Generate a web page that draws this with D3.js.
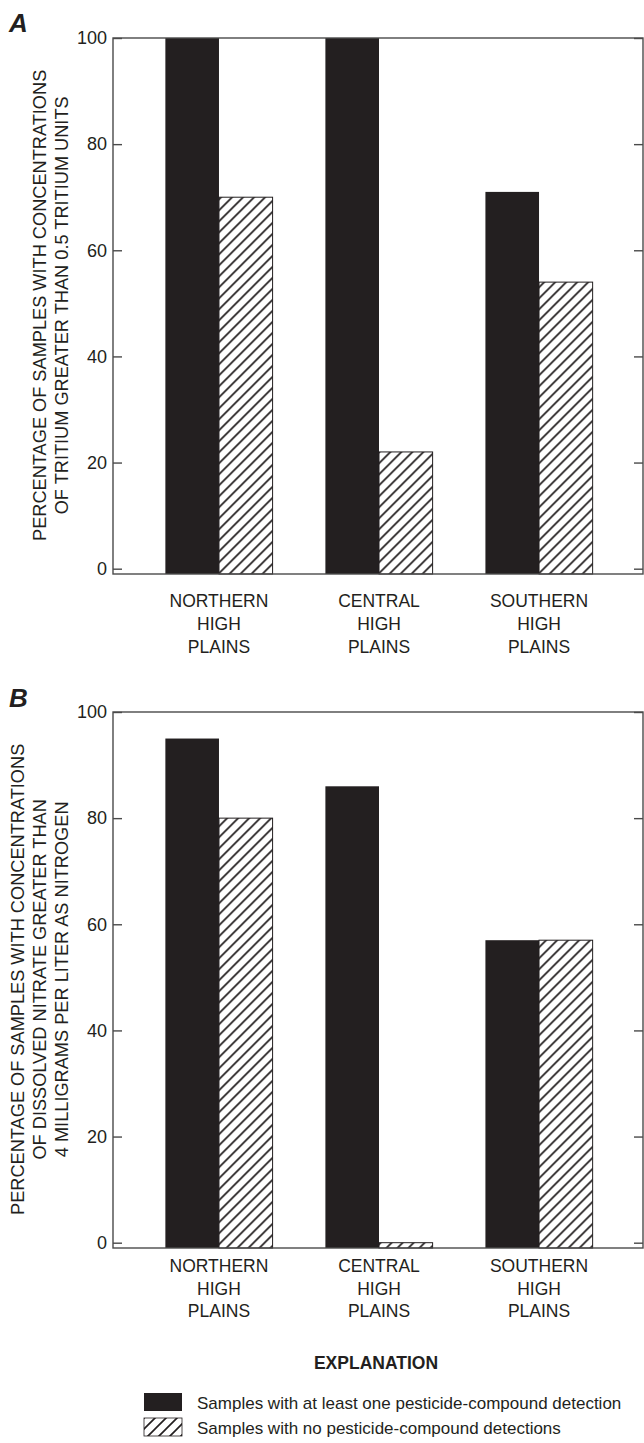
<!DOCTYPE html>
<html><head><meta charset="utf-8">
<script src="https://cdn.jsdelivr.net/npm/d3@7"></script>
<style>
html,body{margin:0;padding:0;background:#fff;}
svg{display:block;}
text{font-family:"Liberation Sans",Arial,Helvetica,sans-serif;fill:#231f20;}
.narrow{font-family:"Liberation Sans Narrow","Arial Narrow","Liberation Sans",sans-serif;font-stretch:condensed;}
</style></head>
<body>
<svg id="chart" width="644" height="1443"></svg>
<script>
const regions = ["NORTHERN HIGH PLAINS", "CENTRAL HIGH PLAINS", "SOUTHERN HIGH PLAINS"];
const regionLines = [["NORTHERN","HIGH","PLAINS"],["CENTRAL","HIGH","PLAINS"],["SOUTHERN","HIGH","PLAINS"]];
const seriesKeys = ["withDetection", "noDetection"];
const seriesLabels = ["Samples with at least one pesticide-compound detection", "Samples with no pesticide-compound detections"];
const tritiumWith = [100, 100, 71];
const tritiumNone = [70, 22, 54];
const nitrateWith = [95, 86, 57];
const nitrateNone = [80, 0, 57];
const yTicks = [0, 20, 40, 60, 80, 100];
const titleA = ["PERCENTAGE OF SAMPLES WITH CONCENTRATIONS", "OF TRITIUM GREATER THAN 0.5 TRITIUM UNITS"];
const titleB = ["PERCENTAGE OF SAMPLES WITH CONCENTRATIONS", "OF DISSOLVED NITRATE GREATER THAN", "4 MILLIGRAMS PER LITER AS NITROGEN"];

const INK = "#231f20";
const svg = d3.select("#chart");

const defs = svg.append("defs");
const pat = defs.append("pattern").attr("id","hatch").attr("patternUnits","userSpaceOnUse")
  .attr("width",11).attr("height",11);
pat.append("rect").attr("width",11).attr("height",11).attr("fill","#fff");
pat.append("path").attr("d","M-3,3 L3,-3 M0,11 L11,0 M8,14 L14,8")
  .attr("stroke",INK).attr("stroke-width",1.7);

function panel(cfg){
  const {left,right,top,bottom,withVals,noneVals,title,titleX,letter,letterY,labelY0,labelDy} = cfg;
  const g = svg.append("g");
  const y = d3.scaleLinear().domain([-1,100]).range([bottom, top]);
  const x0 = d3.scaleBand().domain(regions).range([left+1, right+1]).paddingInner(0.33).paddingOuter(0.321);
  const x1 = d3.scaleBand().domain(seriesKeys).range([0, x0.bandwidth()]);
  const data = regions.map((r,i)=>({region:r, vals:[{k:seriesKeys[0],v:withVals[i]},{k:seriesKeys[1],v:noneVals[i]}]}));

  const grp = g.selectAll("g.grp").data(data).join("g").attr("class","grp")
    .attr("transform",d=>`translate(${x0(d.region)},0)`);
  grp.selectAll("rect").data(d=>d.vals).join("rect")
    .attr("x",d=>x1(d.k)).attr("width",x1.bandwidth())
    .attr("y",d=>y(d.v)).attr("height",d=>y(-1)-y(d.v))
    .attr("fill",d=>d.k===seriesKeys[0]?INK:"url(#hatch)")
    .attr("stroke",d=>d.k===seriesKeys[0]?"none":INK)
    .attr("stroke-width",1);

  g.append("rect").attr("x",left).attr("y",top).attr("width",right-left).attr("height",bottom-top)
    .attr("fill","none").attr("stroke","#4a4a4a").attr("stroke-width",1.4);

  const ax = g.append("g").attr("transform",`translate(${left},0)`)
    .call(d3.axisLeft(y).tickValues(yTicks).tickSize(-9).tickPadding(6).tickFormat(d3.format("d")));
  ax.select(".domain").remove();
  ax.selectAll("line").attr("stroke","#4a4a4a").attr("stroke-width",1.4);
  ax.selectAll("text").attr("font-size",18).attr("fill",INK).attr("font-family","Liberation Sans, Arial, sans-serif");
  const axr = g.append("g").attr("transform",`translate(${right},0)`)
    .call(d3.axisRight(y).tickValues(yTicks).tickSize(-9).tickFormat(""));
  axr.select(".domain").remove();
  axr.selectAll("line").attr("stroke","#4a4a4a").attr("stroke-width",1.4);

  regions.forEach((r,i)=>{
    const cx = x0(r)+x0.bandwidth()/2;
    const t = g.append("text").attr("text-anchor","middle").attr("font-size",17.5);
    regionLines[i].forEach((ln,j)=>{
      t.append("tspan").attr("x",cx).attr("y",labelY0+j*labelDy).text(ln);
    });
  });

  const cy = (y(0)+top)/2 + 2;
  title.forEach((ln,j)=>{
    g.append("text").attr("transform",`translate(${titleX[j]},${cy}) rotate(-90)`)
      .attr("text-anchor","middle").attr("font-size",18.2).text(ln);
  });

  g.append("text").attr("x",9).attr("y",letterY).attr("font-size",26).attr("font-weight","bold")
    .attr("font-style","italic").text(letter);
}

panel({left:113,right:643,top:38,bottom:574,withVals:tritiumWith,noneVals:tritiumNone,
  title:titleA,titleX:[46,68],letter:"A",letterY:32,labelY0:607,labelDy:23});
panel({left:113,right:643,top:712,bottom:1248,withVals:nitrateWith,noneVals:nitrateNone,
  title:titleB,titleX:[24,46,68],letter:"B",letterY:707,labelY0:1272,labelDy:22.5});

const lg = svg.append("g");
lg.append("text").attr("class","narrow").attr("x",376).attr("y",1369).attr("text-anchor","middle")
  .attr("font-size",17.5).attr("font-weight","bold").text("EXPLANATION");
const items = lg.selectAll("g.item").data(seriesKeys).join("g").attr("class","item")
  .attr("transform",(d,i)=>`translate(144,${1393+i*25})`);
items.append("rect").attr("width",38).attr("height",18)
  .attr("fill",(d,i)=>i===0?INK:"url(#hatch)")
  .attr("stroke",(d,i)=>i===0?"none":INK).attr("stroke-width",0.8);
items.append("text").attr("class","narrow").attr("x",53).attr("y",16).attr("font-size",17)
  .text((d,i)=>seriesLabels[i]);
</script>
</body></html>
